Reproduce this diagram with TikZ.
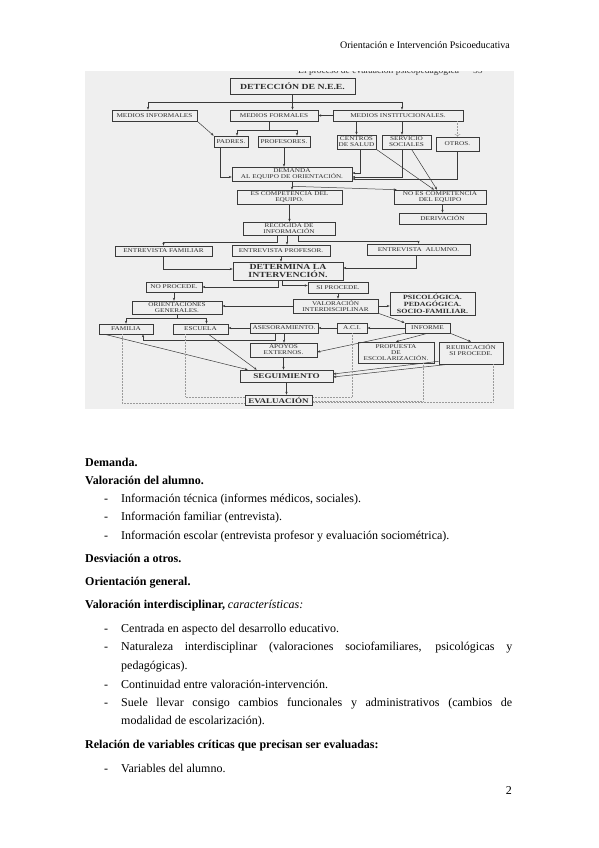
\documentclass[tikz,border=0pt]{standalone}
\usepackage{fontspec}
\setmainfont{Liberation Serif}
\newfontfamily\scanfont[FakeStretch=1.25]{Liberation Serif}
\usetikzlibrary{arrows.meta,calc}
\definecolor{scanbg}{HTML}{EFEFEF}
\definecolor{scanink}{HTML}{3A3A3A}
\definecolor{dotcol}{HTML}{9A9A9A}

\begin{document}
\begin{tikzpicture}[x=1pt,y=-1pt,
  bx/.style={draw=scanink, line width=0.6pt, text=scanink!80!black, inner sep=0pt, align=center,
    font=\scanfont\fontsize{5.8}{6.2}\selectfont},
  bxb/.style={bx, font=\scanfont\bfseries\fontsize{7.8}{8.3}\selectfont},
  sz/.style 2 args={minimum width=#1pt, minimum height=#2pt},
  ln/.style={draw=scanink, line width=0.5pt},
  arr/.style={ln, -{Stealth[length=3pt,width=2.4pt]}},
  dots/.style={draw=dotcol, line width=0.5pt, densely dotted},
  txt/.style={anchor=base west, inner sep=0pt, font=\fontsize{12}{14}\selectfont},
]
\useasboundingbox (0,0) rectangle (599,848);
\fill[white] (0,0) rectangle (599,848);

\node[anchor=base east, inner sep=0pt, font=\fontsize{10}{12}\selectfont] (hdr) at (510,49) {Orientación e Intervención Psicoeducativa};

% scanned chart
\fill[scanbg] (85,71) rectangle (514,409);
\begin{scope}
  \clip (85,71.5) rectangle (514,409);
  \node[anchor=base west, inner sep=0pt, text=scanink, font=\fontsize{9.5}{10}\selectfont] (runhead) at (298,74) {El proceso de evaluación psicopedagógica\hspace{14pt}55};
\end{scope}

\node[bxb, sz={125}{16}] (det) at (292.5,86) {DETECCIÓN DE N.E.E.};
\node[bx, sz={85}{11}] (minf) at (154.5,115.5) {MEDIOS INFORMALES};
\node[bx, sz={88}{11}] (mfor) at (274,115.5) {MEDIOS FORMALES};
\node[bx, sz={130}{11}] (minst) at (398,115.5) {MEDIOS INSTITUCIONALES.};
\node[bx, sz={34}{11}] (pad) at (231,141.5) {PADRES.};
\node[bx, sz={52}{11}] (prof) at (284,141.5) {PROFESORES.};
\node[bx, sz={39}{14}] (cen) at (356.5,142) {CENTROS\\DE SALUD};
\node[bx, sz={49}{14}] (serv) at (406.5,142) {SERVICIO\\SOCIALES};
\node[bx, sz={43}{14}] (otr) at (457.5,144) {OTROS.};
\node[bx, sz={120}{14}] (dem) at (292,174) {DEMANDA\\AL EQUIPO DE ORIENTACIÓN.};
\node[bx, sz={105}{14}] (escomp) at (289.5,197) {ES COMPETENCIA DEL\\EQUIPO.};
\node[bx, sz={92}{14}] (noes) at (440,197) {NO ES COMPETENCIA\\DEL EQUIPO};
\node[bx, sz={87}{11}] (der) at (442.5,218.5) {DERIVACIÓN};
\node[bx, sz={92}{13}] (rec) at (289,228.5) {RECOGIDA DE\\INFORMACIÓN};
\node[bx, sz={97}{10}] (efam) at (163.5,251) {ENTREVISTA FAMILIAR};
\node[bx, sz={98}{11}] (eprof) at (281,250.5) {ENTREVISTA PROFESOR.};
\node[bx, sz={103}{11}] (ealu) at (418.5,249.5) {ENTREVISTA\ \ ALUMNO.};
\node[bxb, sz={110}{18}] (detint) at (288,271) {DETERMINA LA\\INTERVENCIÓN.};
\node[bx, sz={56}{10}] (nop) at (174,287) {NO PROCEDE.};
\node[bx, sz={60}{11}] (sip) at (338,287.5) {SI PROCEDE.};
\node[bx, sz={90}{13}] (orgen) at (177,307.5) {ORIENTACIONES\\GENERALES.};
\node[bx, sz={85}{14}] (valint) at (335.5,306) {VALORACIÓN\\INTERDISCIPLINAR};
\node[bx, sz={85}{23}, font=\scanfont\bfseries\fontsize{6.4}{7.1}\selectfont] (psi) at (432.5,303.5) {PSICOLÓGICA.\\PEDAGÓGICA.\\SOCIO-FAMILIAR.};
\node[bx, sz={54}{10}] (fam) at (126,329) {FAMILIA};
\node[bx, sz={55}{10}] (esc) at (200.5,329) {ESCUELA};
\node[bx, sz={68}{10}] (ases) at (284,328) {ASESORAMIENTO.};
\node[bx, sz={30}{10}] (aci) at (352,328) {A.C.I.};
\node[bx, sz={45}{10}] (inf) at (427.5,328) {INFORME};
\node[bx, sz={67}{14}] (apo) at (283.5,350) {APOYOS\\EXTERNOS.};
\node[bx, sz={76}{21}] (prop) at (396,352.5) {PROPUESTA\\DE\\ESCOLARIZACIÓN.};
\node[bx, sz={64}{22}] (reub) at (471,353) {REUBICACIÓN\\SI PROCEDE.\\\mbox{}};
\node[bxb, sz={93}{12}, font=\scanfont\bfseries\fontsize{7.3}{8}\selectfont] (seg) at (286.5,376) {SEGUIMIENTO};
\node[bxb, sz={67}{10}, font=\scanfont\bfseries\fontsize{7.2}{8}\selectfont] (eva) at (278.5,400) {EVALUACIÓN};

% deteccion
\coordinate (jl) at (148,102);
\coordinate (jr) at (402,102);
\draw[arr] (det.south) -- (det.south |- mfor.north);
\draw[ln] (jl) -- (jr);
\draw[arr] (jl) -- (jl |- minf.north);
\draw[arr] (jr) -- (jr |- minst.north);
\draw[arr] (minst.west) -- (mfor.east);
\coordinate (jf) at (269,130);
\coordinate (jfa) at (237,130);
\coordinate (jfb) at (297,130);
\draw[ln] (jf |- mfor.south) -- (jf);
\draw[ln] (jfa) -- (jfb);
\draw[arr] (jfa) -- (jfa |- pad.north);
\draw[arr] (jfb) -- (jfb |- prof.north);
\draw[arr] (minf.south east) -- (pad.north west);
\draw[arr] (minst.south -| cen) -- (cen.north);
\draw[arr] (minst.south -| jr) -- (jr |- serv.north);
\draw[dots,->] (minst.south -| otr) -- (otr.north);

% demanda
\draw[arr] ([xshift=-11pt]pad.south) |- ([yshift=-3pt]dem.west);
\draw[arr] (prof.south) -- (prof.south |- dem.north);
\draw[arr] ([xshift=4pt]cen.south) |- ([yshift=1pt]dem.east);
\draw[arr] ([xshift=-4pt]serv.south) |- ([yshift=-3pt]dem.east);
\draw[arr] (otr.south) |- ([yshift=-5pt]dem.east);
\draw[arr] (cen.south east) -- ([xshift=-6pt]noes.north);
\draw[arr] ([xshift=5pt]serv.south) -- ([xshift=-3pt]noes.north);
\draw[arr] (dem.south) -- (dem.south |- escomp.north);
\coordinate (jd) at ($(dem.south)+(0,5)$);
\draw[arr] (jd) -- ([xshift=3pt]noes.north west);
\draw[arr] (noes.south -| der) -- (der.north);
\draw[arr] (escomp.south) -- (escomp.south |- rec.north);

% recogida
\draw[arr] ([xshift=-12pt]rec.south) -- ++(0,7) -| (efam.north);
\draw[arr] ([xshift=-2pt]rec.south) -- ([xshift=-2pt]rec.south |- eprof.north);
\draw[arr] ([xshift=9pt]rec.south) -- ++(0,6) -| (ealu.north);
\draw[arr] (eprof.south) -- (eprof.south |- detint.north);
\draw[arr] (efam.south) |- ([yshift=2pt]detint.west);
\draw[arr] ([xshift=-2pt]ealu.south) |- ([yshift=3pt]detint.east);
\draw[arr] ([xshift=-10pt]detint.south) |- (nop.east);
\draw[arr] ([xshift=-6pt]detint.south) |- ([yshift=2pt]sip.west);
\draw[arr] (nop.south) -- (nop.south |- orgen.north);
\draw[arr] (sip.south) -- (sip.south |- valint.north);
\draw[arr] (valint.west) -- (valint.west -| orgen.east);
\draw[arr] (valint.east) -- (valint.east -| psi.west);

% orientaciones / valoracion
\coordinate (jo) at ($(orgen.south)+(0,4)$);
\draw[ln] (orgen.south) -- (jo);
\draw[arr] (jo) -| (fam.north);
\draw[arr] (jo) -| ([xshift=6pt]esc.north);
\draw[arr] (ases.west) -- (ases.west -| esc.east);
\draw[arr] (aci.west) -- (aci.west -| ases.east);
\draw[arr] (inf.west) -- (inf.west -| aci.east);
\draw[arr] (valint.south east) -- (inf.north west);
\draw[arr] ([xshift=-9pt]ases.south) -- ++(0,7) -| ([xshift=17pt]fam.south);
\draw[arr] (ases.south) -- (ases.south |- apo.north);
\draw[arr] (inf.south west) -- ([yshift=-2pt]apo.east);
\draw[arr] (inf.south) -- (prop.north);
\draw[arr] (inf.south east) -- (reub.north);

% seguimiento
\draw[arr] ([yshift=3pt]reub.south west) -- ([yshift=2pt]seg.east);
\draw[arr] ([xshift=10pt]reub.south west) -- ([yshift=-1pt]seg.east);
\draw[arr] (apo.south) -- (apo.south |- seg.north);
\draw[arr] ([xshift=6pt]fam.south west) -- ([xshift=8pt]seg.north west);
\draw[arr] ([xshift=8pt]esc.south) -- ([xshift=17pt]seg.north west);
\draw[arr] (seg.south) -- (seg.south |- eva.north);

% dotted returns
\draw[dots] ([xshift=-4pt]fam.south) |- ([yshift=-3pt]eva.west);
\draw[dots] ([xshift=-15pt]esc.south) |- ([yshift=3pt]eva.west);
\draw[dots] (aci.south) |- ([yshift=3pt]eva.east);
\draw[dots] ([xshift=27pt]prop.south) |- ([yshift=-1pt]eva.east);
\draw[dots] ([xshift=22pt]reub.south) |- ([yshift=-2pt]eva.east);

% text
\node[txt] (p1) at (85,466) {\textbf{Demanda.}};
\node[txt] (p2) at (85,484) {\textbf{Valoración del alumno.}};
\node[txt] (l1) at (121,502) {Información técnica (informes médicos, sociales).};
\node[txt] (l2) at (121,520) {Información familiar (entrevista).};
\node[txt] (l3) at (121,539) {Información escolar (entrevista profesor y evaluación sociométrica).};
\node[txt] (p3) at (85,562) {\textbf{Desviación a otros.}};
\node[txt] (p4) at (85,585) {\textbf{Orientación general.}};
\node[txt] (p5) at (85,608) {\textbf{Valoración interdisciplinar,} \textit{características:}};
\node[txt] (l4) at (121,632) {Centrada en aspecto del desarrollo educativo.};
\node[txt] (l5) at (121,650) {\makebox[391pt][s]{Naturaleza interdisciplinar (valoraciones sociofamiliares, psicológicas y}};
\node[txt] (l5b) at (121,669) {pedagógicas).};
\node[txt] (l6) at (121,688) {Continuidad entre valoración-intervención.};
\node[txt] (l7) at (121,706) {\makebox[391pt][s]{Suele llevar consigo cambios funcionales y administrativos (cambios de}};
\node[txt] (l7b) at (121,724) {modalidad de escolarización).};
\node[txt] (p6) at (85,748) {\textbf{Relación de variables críticas que precisan ser evaluadas:}};
\node[txt] (l8) at (121,772) {Variables del alumno.};
\foreach \yy [count=\i] in {502,520,539,632,650,688,706,772}
  \node[txt] (dash\i) at (104,\yy) {-};
\node[anchor=base east, inner sep=0pt, font=\fontsize{12}{14}\selectfont] (pg) at (512,794) {2};
\end{tikzpicture}
\end{document}
